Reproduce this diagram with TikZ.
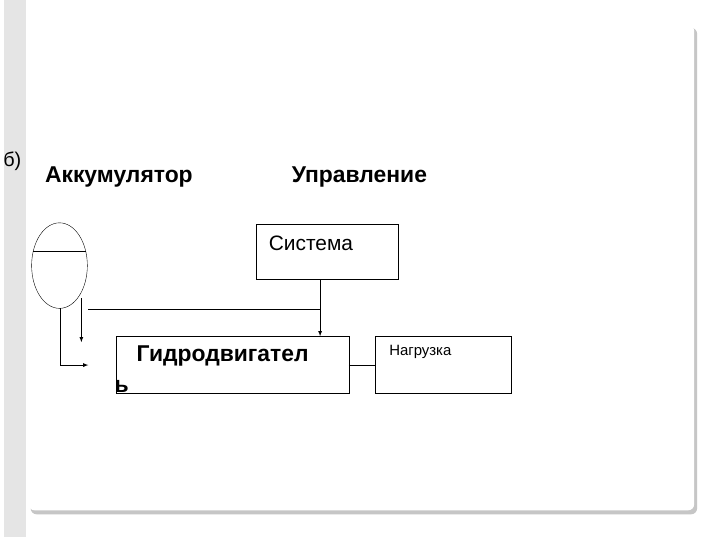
\documentclass[tikz,border=0pt]{standalone}
\usepackage{fontspec}
\usetikzlibrary{shapes.geometric}
\setmainfont{Liberation Sans}
\begin{document}
\begin{tikzpicture}[x=1pt,y=-1pt,
  box/.style={draw,thick,inner sep=0pt},
  lbl/.style={font=\fontsize{23}{26}\selectfont\bfseries},
  ln/.style={thick},
  arr/.style={thick,-latex}]
\fill[white] (0,0) rectangle (720,540);
\fill[gray!20] (0,0) rectangle (22,540);
\fill[gray!45,rounded corners=6pt] (27,28) rectangle (697,517);
\fill[white,rounded corners=6pt] (25,25) rectangle (694,513);
\node[anchor=west,font=\fontsize{20}{22}\selectfont] (b) at (-4,162) {б)};
\node[lbl,anchor=west] (acc) at (38,178) {Аккумулятор};
\node[lbl,anchor=west] (upr) at (286,178) {Управление};
\draw[box] (254,226) rectangle (397,281);
\node[anchor=west,font=\fontsize{21}{24}\selectfont] (sys) at (263,245) {Система};
\coordinate (sysb) at (318,281);
\draw[box] (113,338) rectangle (347,395);
\node[lbl,anchor=west] (g) at (130,358) {Гидродвигател};
\node[lbl,anchor=west] (g2) at (108,388) {ь};
\draw[box] (374,338) rectangle (510,395);
\node[anchor=west,font=\fontsize{15}{17}\selectfont] (n) at (384,354) {Нагрузка};
\node[draw,thin,ellipse,minimum width=56pt,minimum height=86pt,inner sep=0pt] (e) at (56,267) {};
\draw[thin] (29,253) -- (83,253);
\coordinate (gt) at (318,338);
\draw[arr] (sysb) -- (gt);
\draw[ln] (85,311) -- (318,311);
\draw[arr] (78,300) -- (78,344);
\draw[ln] (57,310) -- (57,367);
\draw[arr] (57,367) -- (85,367);
\draw[ln] (347,367) -- (374,367);
\end{tikzpicture}
\end{document}
